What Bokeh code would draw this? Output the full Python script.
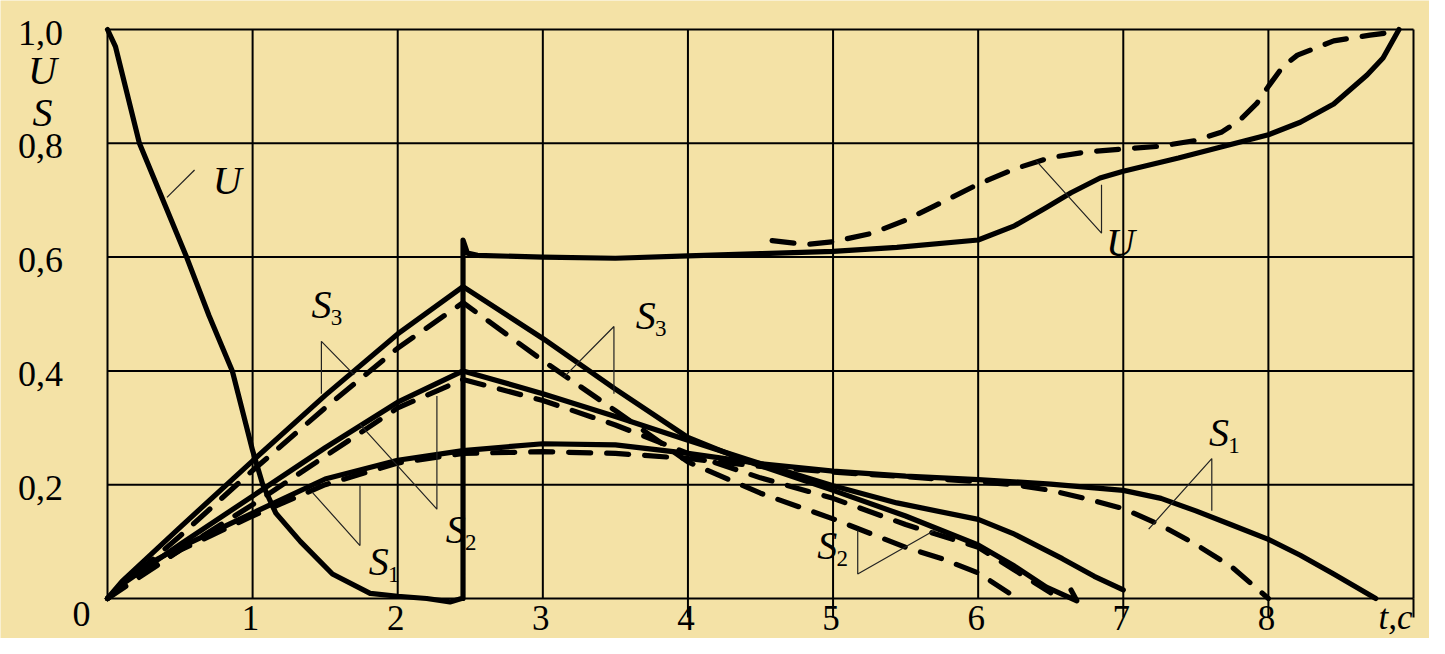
from bokeh.plotting import figure
from bokeh.models import ColumnDataSource, LabelSet, Range1d
from bokeh.core.properties import value
from bokeh.embed import file_html
from bokeh.resources import INLINE

# ---------------- data ----------------
x_ticks = [1, 2, 3, 4, 5, 6, 7, 8]
x_tick_labels = ["1", "2", "3", "4", "5", "6", "7", "8"]
y_ticks = [0.2, 0.4, 0.6, 0.8, 1.0]
y_tick_labels = ["0,2", "0,4", "0,6", "0,8", "1,0"]
x_grid = [0, 1, 2, 3, 4, 5, 6, 7, 8, 9]
y_grid = [0.0, 0.2, 0.4, 0.6, 0.8, 1.0]
x_marks = [4, 5, 7, 8, 9]          # grid lines that pass below the t axis
x_unit_label = "t,c"
y_names = ["U", "S"]
y_name_pos = [0.928, 0.854]

# U (solid)
u_t = [0, 0.055, 0.22, 0.545, 0.70, 0.86, 1.0, 1.07, 1.16, 1.33, 1.55, 1.81, 2.0, 2.2,
       2.36, 2.44, 2.45, 2.45, 2.48, 2.55, 3.0, 3.5, 4.0, 4.5, 5.0, 5.44, 6.0, 6.25, 6.47,
       6.64, 6.84, 7.0, 7.38, 7.74, 8.0, 8.22, 8.45, 8.68, 8.79, 8.9]
u_val = [1.0, 0.97, 0.8, 0.6, 0.497, 0.4, 0.26, 0.2, 0.15, 0.1, 0.043, 0.009, 0.004, 0.0,
         -0.006, 0.0, 0.0, 0.63, 0.607, 0.603, 0.6, 0.598, 0.602, 0.606, 0.61, 0.617, 0.63,
         0.655, 0.687, 0.713, 0.739, 0.751, 0.774, 0.798, 0.815, 0.837, 0.869, 0.92, 0.95, 1.0]
# U (dashed)
ud_t = [4.58, 4.81, 5.0, 5.27, 5.5, 5.7, 6.0, 6.25, 6.5, 6.75, 7.0, 7.26, 7.5, 7.68, 7.8,
        7.92, 8.0, 8.1, 8.2, 8.45, 8.7, 8.85]
ud_val = [0.629, 0.622, 0.627, 0.642, 0.665, 0.69, 0.728, 0.755, 0.775, 0.785, 0.79, 0.795,
          0.805, 0.82, 0.84, 0.87, 0.9, 0.935, 0.955, 0.98, 0.99, 0.995]

# S3
s3_t = [0, 0.1, 0.5, 1.0, 1.5, 2.0, 2.45, 3.0, 3.5, 4.0, 4.4, 5.0, 5.5, 6.0, 6.25, 6.47,
        6.68, 6.64]
s3_val = [0, 0.03, 0.125, 0.242, 0.357, 0.465, 0.548, 0.457, 0.368, 0.283, 0.242, 0.19,
          0.145, 0.094, 0.057, 0.02, -0.004, 0.015]
s3d_t = [0, 0.5, 1, 1.5, 2, 2.45, 3, 3.5, 4, 4.5, 5, 5.5, 5.75, 6, 6.27]
s3d_val = [0, 0.11, 0.225, 0.335, 0.44, 0.52, 0.418, 0.33, 0.24, 0.185, 0.14, 0.09, 0.07,
           0.045, 0.0]

# S2
s2_t = [0, 0.1, 0.5, 1.0, 1.5, 2.0, 2.45, 3.0, 3.5, 4.0, 4.4, 5.0, 5.44, 6.0, 6.25, 6.58,
        6.8, 7.0]
s2_val = [0, 0.025, 0.095, 0.18, 0.265, 0.345, 0.40, 0.36, 0.32, 0.278, 0.245, 0.198, 0.168,
          0.139, 0.113, 0.07, 0.039, 0.015]
s2d_t = [0, 0.5, 1, 1.5, 2, 2.45, 3, 3.5, 4, 4.5, 5, 5.5, 6, 6.25, 6.5]
s2d_val = [0, 0.085, 0.165, 0.25, 0.335, 0.385, 0.348, 0.305, 0.255, 0.212, 0.176, 0.13,
           0.09, 0.05, 0.01]

# S1
s1_t = [0, 0.2, 0.5, 1, 1.5, 2, 2.45, 3, 3.5, 4, 4.5, 5, 5.5, 6, 6.5, 7, 7.26, 7.5, 7.74,
        8, 8.22, 8.45, 8.74]
s1_val = [0, 0.05, 0.09, 0.15, 0.21, 0.243, 0.26, 0.272, 0.27, 0.255, 0.237, 0.224, 0.215,
          0.209, 0.201, 0.19, 0.176, 0.154, 0.13, 0.104, 0.076, 0.043, 0]
s1d_t = [0, 0.2, 0.5, 1, 1.5, 2, 2.45, 3, 3.5, 4, 4.5, 5, 5.5, 6, 6.25, 6.5, 6.75, 7, 7.25,
         7.5, 7.75, 8]
s1d_val = [0, 0.04, 0.085, 0.145, 0.2, 0.238, 0.255, 0.258, 0.255, 0.246, 0.232, 0.222,
           0.214, 0.205, 0.2, 0.19, 0.175, 0.158, 0.13, 0.095, 0.055, 0]

# curve annotations: label letter, subscript, anchor (t, value)
ann_main = ["U", "S", "S", "S", "S", "S", "S", "U"]
ann_sub = ["", "3", "1", "2", "3", "2", "1", ""]
ann_t = [0.825, 1.474, 1.87, 2.40, 3.71, 4.96, 7.66, 6.98]
ann_v = [0.734, 0.516, 0.065, 0.122, 0.497, 0.094, 0.292, 0.625]

# leader lines of the annotations
lead_t = [[0.41, 0.60],
          [1.474, 1.474, 1.70],
          [1.74, 1.74, 1.41],
          [2.27, 2.27, 1.74],
          [3.49, 3.49, 3.145],
          [5.17, 5.17, 5.7],
          [7.61, 7.61, 7.175],
          [6.85, 6.85, 6.4]]
lead_v = [[0.705, 0.753],
          [0.36, 0.452, 0.393],
          [0.2, 0.093, 0.187],
          [0.356, 0.157, 0.306],
          [0.36, 0.478, 0.389],
          [0.12, 0.043, 0.12],
          [0.154, 0.246, 0.122],
          [0.727, 0.642, 0.769]]

# ---------------- figure ----------------
W, H = 1429, 638
L, R, T, B = 107, 1413, 29, 598          # chart rectangle in canvas pixels
xs_per_px = (x_grid[-1] - x_grid[0]) / (R - L)
ys_per_px = (y_grid[-1] - y_grid[0]) / (B - T)
x_range = Range1d(x_grid[0] - L * xs_per_px, x_grid[-1] + (W - R) * xs_per_px)
y_range = Range1d(y_grid[0] - (H - B) * ys_per_px, y_grid[-1] + T * ys_per_px)

BG = "#F4E2A6"
SERIF = "Liberation Serif"
font = value(SERIF)

p = figure(width=W, height=H, output_backend="svg", toolbar_location=None,
           x_range=x_range, y_range=y_range, min_border=0)
p.background_fill_color = BG
p.border_fill_color = BG
p.outline_line_color = None
p.xaxis.visible = False
p.yaxis.visible = False
p.xgrid.visible = False
p.ygrid.visible = False

# grid of the chart (from the tick lists)
y0, y1 = y_grid[0], y_grid[-1]
x0, x1 = x_grid[0], x_grid[-1]
p.multi_line([[g, g] for g in x_grid], [[y0, y1] for _ in x_grid],
             line_color="black", line_width=2)
p.multi_line([[x0, x1] for _ in y_grid], [[g, g] for g in y_grid],
             line_color="black", line_width=2)
mark_len = 19 * ys_per_px
p.multi_line([[g, g] for g in x_marks], [[y0, y0 - mark_len] for _ in x_marks],
             line_color="black", line_width=2)

LW = 5.2
curve_style = dict(line_color="black", line_width=LW, line_cap="round", line_join="round")
dash = "22 16"

p.line(u_t, u_val, **curve_style)
p.line(ud_t, ud_val, line_dash=dash, **curve_style)
p.line(s3_t, s3_val, **curve_style)
p.line(s3d_t, s3d_val, line_dash=dash, **curve_style)
p.line(s2_t, s2_val, **curve_style)
p.line(s2d_t, s2d_val, line_dash=dash, **curve_style)
p.line(s1_t, s1_val, **curve_style)
p.line(s1d_t, s1d_val, line_dash=dash, **curve_style)

p.multi_line(lead_t, lead_v, line_color="#222222", line_width=1.2)

# ---------------- texts ----------------
def labels(src, **kw):
    base = dict(x="x", y="y", text="text", text_font=font, text_color="black",
                text_align="center", text_baseline="middle")
    base.update(kw)
    p.add_layout(LabelSet(source=ColumnDataSource(src), **base))

labels(dict(x=x_ticks, y=[y0] * len(x_ticks), text=x_tick_labels),
       text_font_size="35px", x_offset=-2, y_offset=-19)
labels(dict(x=[x1], y=[y0], text=[x_unit_label]),
       text_font_size="35px", text_font_style="italic", x_offset=-18, y_offset=-19)
labels(dict(x=[x0], y=[y0], text=["0"]),
       text_font_size="36px", x_offset=-26, y_offset=-15)
labels(dict(x=[x0] * len(y_ticks), y=y_ticks, text=y_tick_labels),
       text_font_size="36px", x_offset=-67, y_offset=-3)
labels(dict(x=[x0] * len(y_names), y=y_name_pos, text=y_names),
       text_font_size="40px", text_font_style="italic", x_offset=-65)

labels(dict(x=ann_t, y=ann_v, text=ann_main),
       text_font_size="40px", text_font_style="italic")
labels(dict(x=ann_t, y=ann_v, text=ann_sub),
       text_font_size="23px", x_offset=15, y_offset=-13)

open("out.html", "w").write(file_html(p, INLINE))
